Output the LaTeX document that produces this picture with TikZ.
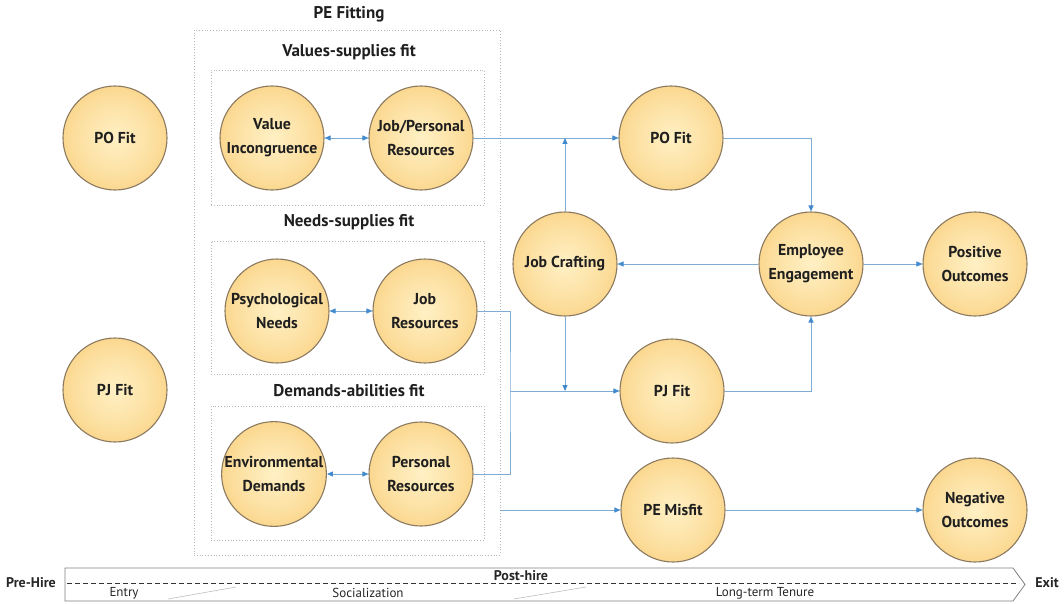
\documentclass[tikz,border=0pt]{standalone}
\usepackage{fontspec}
\setmainfont{PT Sans}
\usetikzlibrary{arrows.meta}
\definecolor{connc}{RGB}{128,172,212}
\definecolor{tipc}{RGB}{66,138,206}
\definecolor{ballin}{RGB}{255,240,196}
\definecolor{ballout}{RGB}{246,186,80}
\definecolor{ballrim}{RGB}{140,122,96}
\pgfdeclareradialshading{ballshade}{\pgfpoint{0bp}{0bp}}{color(0bp)=(ballin); color(18bp)=(ballin!70!ballout); color(50bp)=(ballout); color(100bp)=(ballout)}
\begin{document}
\begin{tikzpicture}[x=1pt,y=-1pt,
  ball/.style={circle, minimum size=104pt, inner sep=0pt, draw=ballrim, line width=1.1pt,
    shading=ballshade, font=\fontsize{15.8}{24}\selectfont\bfseries, align=center, text=black!88},
  conn/.style={draw=connc, line width=0.9pt, -{Triangle[length=6pt,width=5pt,color=tipc]}},
  plain/.style={draw=connc, line width=0.9pt},
  both/.style={draw=connc, line width=0.9pt, {Triangle[length=6pt,width=5pt,color=tipc]}-{Triangle[length=6pt,width=5pt,color=tipc]}},
  fitbox/.style={draw=black!28, dotted, line width=0.8pt, inner sep=0pt},
  ttl/.style={font=\fontsize{17}{20}\selectfont\bfseries, text=black!88},
  tline/.style={font=\fontsize{13}{14}\selectfont, text=black!85},
  tlineb/.style={font=\fontsize{14}{15}\selectfont\bfseries, text=black!85}
]
\useasboundingbox (0,0) rectangle (1064,604);

% boxes
\node[fitbox, minimum width=306pt, minimum height=525pt] (pebox) at (347,292.5) {};
\node[fitbox, minimum width=273pt, minimum height=135pt] (vsbox) at (347.5,137.5) {};
\node[fitbox, minimum width=273pt, minimum height=133pt] (nsbox) at (347.5,307.5) {};
\node[fitbox, minimum width=273pt, minimum height=134pt] (dabox) at (347.5,473) {};

\node[ttl] (t0) at (349,14) {PE Fitting};
\node[ttl] (t1) at (349,52) {Values-supplies fit};
\node[ttl] (t2) at (349,222) {Needs-supplies fit};
\node[ttl] (t3) at (349,391) {Demands-abilities fit};

% circles
\node[ball] (pofitl) at (115,138) {PO Fit};
\node[ball] (pjfitl) at (115,390) {PJ Fit};
\node[ball] (vi) at (272,138) {Value\\Incongruence};
\node[ball] (jpr) at (421,138) {Job/Personal\\Resources};
\node[ball] (pn) at (277,311) {Psychological\\Needs};
\node[ball] (jr) at (425,311) {Job\\Resources};
\node[ball] (ed) at (274,474) {Environmental\\Demands};
\node[ball] (pr) at (421,474) {Personal\\Resources};
\node[ball] (jc) at (565,264) {Job Crafting};
\node[ball] (pofit) at (671,138) {PO Fit};
\node[ball] (pjfit) at (672,391) {PJ Fit};
\node[ball] (misfit) at (673,510) {PE Misfit};
\node[ball] (ee) at (811,264) {Employee\\Engagement};
\node[ball] (pos) at (975,264) {Positive\\Outcomes};
\node[ball] (neg) at (975,510) {Negative\\Outcomes};

% connectors
\draw[both] (vi.east) -- (jpr.west);
\draw[both] (pn.east) -- (jr.west);
\draw[both] (ed.east) -- (pr.west);
\draw[conn] (jpr.east) -- (pofit.west);
\draw[conn] (jc.north) -- (jc.north |- pofit.west);
\draw[conn] (jc.south) -- (jc.south |- pjfit.west);
\coordinate (mx) at (510,391);
\draw[plain] (jr.east) -| (mx) |- (pr.east);
\draw[conn] (mx) -- (pjfit.west);
\draw[conn] (pebox.east |- misfit.west) -- (misfit.west);
\draw[conn] (pofit.east) -| (ee.north);
\draw[conn] (pjfit.east) -| (ee.south);
\draw[conn] (ee.west) -- (jc.east);
\draw[conn] (ee.east) -- (pos.west);
\draw[conn] (misfit.east) -- (neg.west);

% timeline
\draw[black!50, line width=0.8pt] (65,568) -- (1013,568) -- (1025,584.5) -- (1013,601) -- (65,601) -- cycle;
\coordinate (ds) at (67,583);
\coordinate (de) at (1019,583);
\draw[black!80, dashed, dash pattern=on 5pt off 3pt, line width=0.8pt] (ds) -- (de);
\draw[black!25, line width=0.6pt] (168,599) -- (236,587);
\draw[black!25, line width=0.6pt] (514,599) -- (586,587);
\node[tlineb] (prehire) at (31,583) {Pre-Hire};
\node[tlineb] (exit) at (1047,583) {Exit};
\node[tlineb] (posthire) at (521,576) {Post-hire};
\node[tline] (entry) at (124,593) {Entry};
\node[tline] (soc) at (368,593) {Socialization};
\node[tline] (ltt) at (765,593) {Long-term Tenure};
\end{tikzpicture}
\end{document}
